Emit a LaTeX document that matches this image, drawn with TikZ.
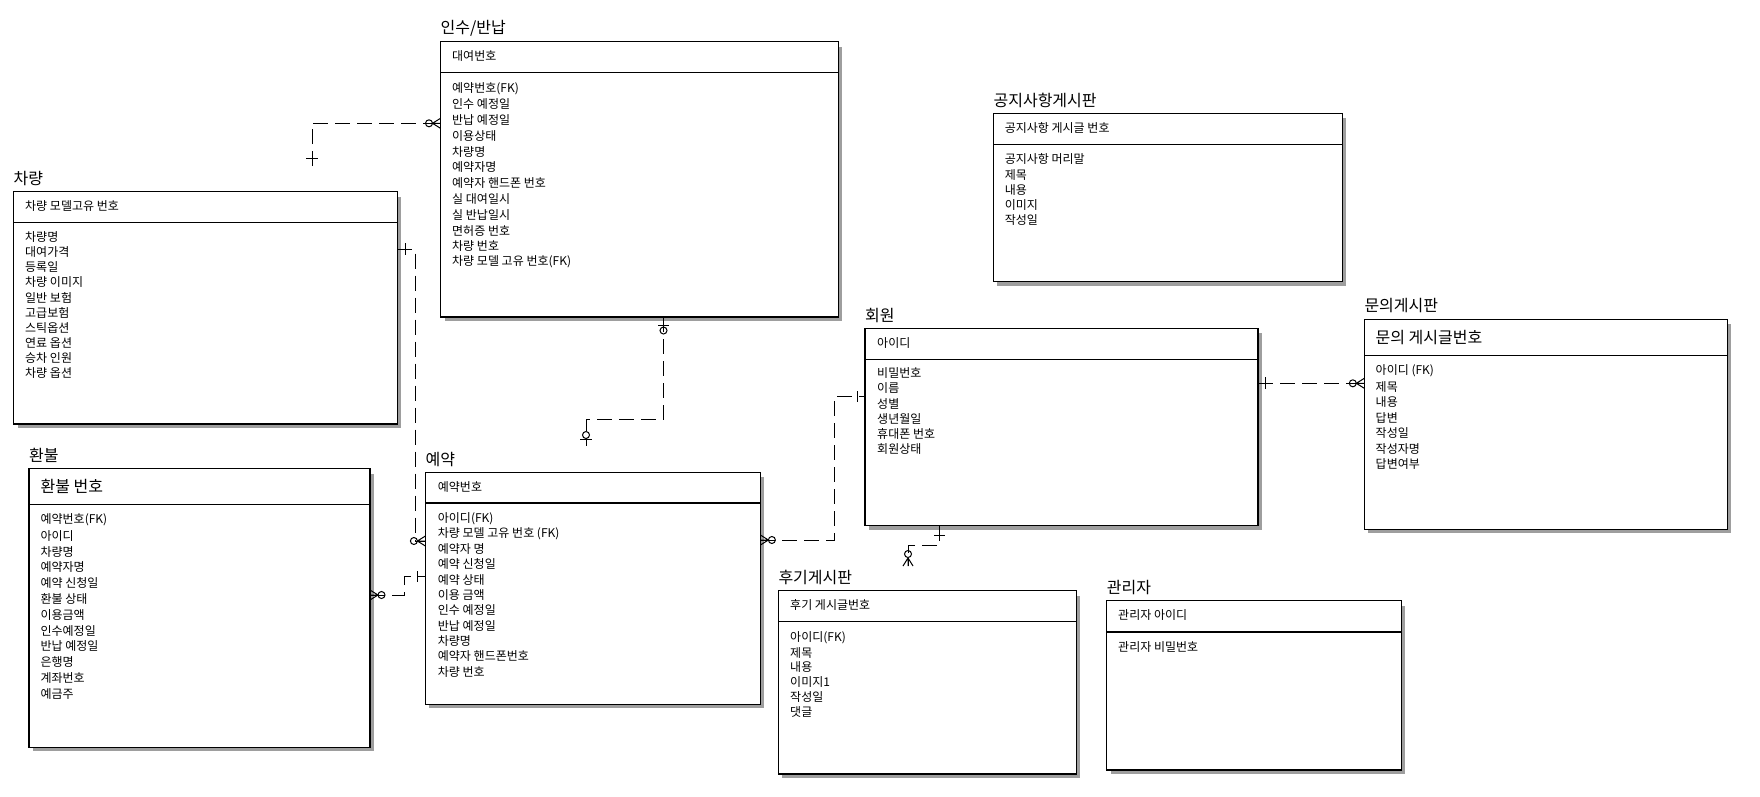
\documentclass[tikz,border=0pt]{standalone}
\usepackage{fontspec}
\setmainfont{Noto Sans CJK KR}
\tikzset{
  ebox/.style={draw, line width=1.1pt, fill=white, inner sep=0pt, outer sep=0pt},
  shadowc/.style={fill=black!38},
  ttl/.style={anchor=west, inner sep=0pt, font=\fontsize{16}{18}\selectfont},
  hdr/.style={anchor=west, inner sep=0pt, font=\fontsize{12}{14}\selectfont},
  bighdr/.style={anchor=west, inner sep=0pt, font=\fontsize{16}{18}\selectfont},
  attr/.style={anchor=west, inner sep=0pt, font=\fontsize{12}{14}\selectfont},
  rel/.style={line width=1pt, dash pattern=on 15pt off 7pt},
  sym/.style={line width=1pt},
}
% name, x1, y1, x2, y2, header-line y, title, title y
\newcommand\erent[8]{%
  \fill[shadowc] ({#2+4},{#3+5}) rectangle ({#4+4},{#5+4});
  \node[ebox, anchor=north west, minimum width={#4-#2}, minimum height={#5-#3}] (#1) at (#2,#3) {};
  \draw[line width=1.1pt] (#1.west |- 0,#6) -- (#1.east |- 0,#6);
  \node[ttl] (#1-title) at (#2,#8) {#7};
}
% crow's foot + circle, horizontal: box edge x, y, direction (1 = box on right, -1 = box on left)
\newcommand\manyH[3]{%
  \draw[sym] ({#1-(#3)*8},#2) -- (#1,{#2-5}) ({#1-(#3)*8},#2) -- (#1,{#2+5}) ({#1-(#3)*8},#2) -- (#1,#2);
  \draw[sym] ({#1-(#3)*11.5},#2) circle[radius=3.5];
}
\newcommand\manyV[3]{%
  \draw[sym] (#1,{#2-(#3)*8}) -- ({#1-5},#2) (#1,{#2-(#3)*8}) -- ({#1+5},#2) (#1,{#2-(#3)*8}) -- (#1,#2);
  \draw[sym] (#1,{#2-(#3)*12}) circle[radius=3.5];
}
\begin{document}
\begin{tikzpicture}[x=1pt,y=-1pt]
\useasboundingbox (0,0) rectangle (1760,796);

% ---------- entities ----------
\erent{rent}{440.5}{41.7}{838.4}{317}{72.3}{인수/반납}{28}
\node[hdr] (rent-h) at (452,56) {대여번호};
\foreach \t [count=\i] in {예약번호(FK),인수 예정일,반납 예정일,이용상태,차량명,예약자명,예약자 핸드폰 번호,실 대여일시,실 반납일시,면허증 번호,차량 번호,차량 모델 고유 번호(FK)}
  \node[attr] (rent-a\i) at (452,{88.3+(\i-1)*15.8}) {\t};

\erent{car}{13.5}{191.7}{397.3}{424}{222.3}{차량}{178.5}
\node[hdr] (car-h) at (25,205.7) {차량 모델고유 번호};
\foreach \t [count=\i] in {차량명,대여가격,등록일,차량 이미지,일반 보험,고급보험,스틱옵션,연료 옵션,승차 인원,차량 옵션}
  \node[attr] (car-a\i) at (25,{237.3+(\i-1)*15.05}) {\t};

\erent{refund}{29}{468.7}{370}{747.3}{504.3}{환불}{455}
\node[bighdr] (refund-h) at (40.4,486.7) {환불 번호};
\foreach \t [count=\i] in {예약번호(FK),아이디,차량명,예약자명,예약 신청일,환불 상태,이용금액,인수예정일,반납 예정일,은행명,계좌번호,예금주}
  \node[attr] (refund-a\i) at (40.4,{520+(\i-1)*15.8}) {\t};

\erent{res}{425.4}{472.3}{760.4}{704.3}{503}{예약}{459.7}
\node[hdr] (res-h) at (437.7,486.7) {예약번호};
\foreach \t [count=\i] in {아이디(FK),차량 모델 고유 번호 (FK),예약자 명,예약 신청일,예약 상태,이용 금액,인수 예정일,반납 예정일,차량명,예약자 핸드폰번호,차량 번호}
  \node[attr] (res-a\i) at (437.7,{518.3+(\i-1)*15.34}) {\t};

\erent{member}{865}{328.3}{1258}{525.5}{359.3}{회원}{315}
\node[hdr] (member-h) at (877,343.3) {아이디};
\foreach \t [count=\i] in {비밀번호,이름,성별,생년월일,휴대폰 번호,회원상태}
  \node[attr] (member-a\i) at (877,{373.3+(\i-1)*15.2}) {\t};

\erent{inq}{1364.3}{319.3}{1727.4}{529.3}{355.3}{문의게시판}{306}
\node[bighdr] (inq-h) at (1375.5,337.7) {문의 게시글번호};
\foreach \t [count=\i] in {아이디 (FK),제목,내용,답변,작성일,작성자명,답변여부}
  \node[attr] (inq-a\i) at (1375.5,{371+(\i-1)*15.55}) {\t};

\erent{notice}{993.4}{113.3}{1342.4}{281.7}{144.3}{공지사항게시판}{100.5}
\node[hdr] (notice-h) at (1004.6,128.3) {공지사항 게시글 번호};
\foreach \t [count=\i] in {공지사항 머리말,제목,내용,이미지,작성일}
  \node[attr] (notice-a\i) at (1004.6,{159.3+(\i-1)*15.2}) {\t};

\erent{review}{778.3}{590.7}{1076.4}{774}{621.3}{후기게시판}{577.5}
\node[hdr] (review-h) at (790,605) {후기 게시글번호};
\foreach \t [count=\i] in {아이디(FK),제목,내용,이미지1,작성일,댓글}
  \node[attr] (review-a\i) at (790,{637.7+(\i-1)*14.8}) {\t};

\erent{admin}{1106.7}{600.7}{1401.3}{770}{632}{관리자}{587.5}
\node[hdr] (admin-h) at (1118,615) {관리자 아이디};
\node[attr] (admin-a1) at (1118,646.7) {관리자 비밀번호};

% ---------- relationships ----------
% car -> rent
\coordinate (c1) at (312,166);
\draw[rel] (c1) -- (312,123.3) -- (rent.west |- 0,123.3);
\draw[sym] (306,158.3) -- (318,158.3);
\manyH{440.5}{123.3}{1}

% car -> res
\draw[rel] (car.east |- 0,249.3) -- (415,249.3) -- (415,541) -- (res.west |- 0,541);
\draw[sym] (405,243) -- (405,255);
\manyH{425.4}{541}{1}

% rent -> res
\coordinate (c3) at (586,446);
\draw[rel] (rent.south -| 663.5,0) -- (663.5,419.3) -- (586,419.3) -- (c3);
\draw[sym] (658,325) -- (669,325);
\draw[sym] (663.5,330.5) circle[radius=3.5];
\draw[sym] (586,435) circle[radius=3.5];
\draw[sym] (580,439.5) -- (591.5,439.5);

% refund -> res
\draw[rel] (refund.east |- 0,595) -- (404,595) -- (404,576.7) -- (res.west |- 0,576.7);
\draw[sym] (417.7,571.2) -- (417.7,582.2);
\manyH{370}{595}{-1}

% res -> member
\draw[rel] (res.east |- 0,540) -- (834.3,540) -- (834.3,396.7) -- (member.west |- 0,396.7);
\draw[sym] (857.7,391.2) -- (857.7,402.2);
\manyH{760.4}{540}{-1}

% member -> review
\coordinate (c6) at (908,566);
\draw[rel] (member.south -| 939.5,0) -- (939.5,545) -- (908,545) -- (c6);
\draw[sym] (934,535) -- (945,535);
\manyV{908}{566}{1}

% member -> inquiry
\draw[rel] (member.east |- 0,383.3) -- (inq.west |- 0,383.3);
\draw[sym] (1265,377.3) -- (1265,389.3);
\manyH{1364.3}{383.3}{1}
\end{tikzpicture}
\end{document}
